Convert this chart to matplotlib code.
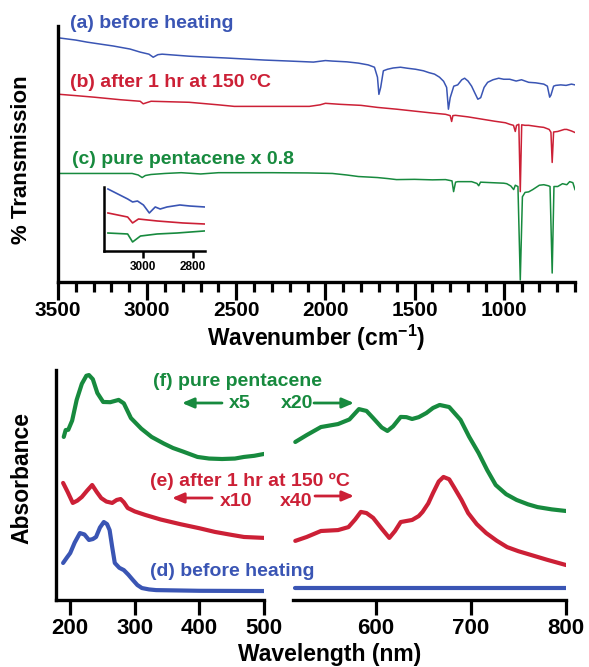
import numpy as np
import matplotlib
matplotlib.use("Agg")
import matplotlib.pyplot as plt

plt.rcParams['font.family'] = ['Liberation Sans', 'DejaVu Sans']
plt.rcParams['font.weight'] = 'bold'
plt.rcParams['mathtext.fontset'] = 'custom'
plt.rcParams['mathtext.rm'] = 'Liberation Sans:bold'
plt.rcParams['mathtext.default'] = 'rm'

BLUE = '#3a55b4'
RED = '#cc2036'
GREEN = '#178a3e'

# ---------- IR spectra (wavenumber, transmission, offset stacked) ----------
ir_wn_a = [3500, 3489, 3400, 3337, 3250, 3191, 3096, 3039, 2990, 2966, 2940, 2916,
           2764, 2650, 2556, 2450, 2343, 2200, 2067, 2000, 1961, 1880, 1815, 1760,
           1725, 1708, 1700, 1690, 1675, 1652, 1620, 1579, 1540, 1494, 1450, 1420,
           1388, 1360, 1337, 1320, 1310, 1300, 1280, 1258, 1235, 1219, 1200, 1180,
           1163, 1145, 1129, 1110, 1090, 1060, 1028, 1000, 966, 930, 900, 860, 820,
           775, 755, 742, 735, 720, 708, 680, 650, 620, 600]
ir_t_a = [0.955, 0.953, 0.945, 0.937, 0.928, 0.922, 0.910, 0.898, 0.890, 0.878, 0.888, 0.890,
          0.882, 0.878, 0.875, 0.871, 0.867, 0.863, 0.859, 0.865, 0.863, 0.860, 0.855, 0.848,
          0.839, 0.800, 0.733, 0.760, 0.825, 0.831, 0.836, 0.839, 0.835, 0.831, 0.825, 0.818,
          0.812, 0.800, 0.784, 0.760, 0.675, 0.720, 0.765, 0.770, 0.790, 0.796, 0.785, 0.765,
          0.740, 0.714, 0.720, 0.760, 0.780, 0.790, 0.796, 0.792, 0.792, 0.785, 0.790, 0.780, 0.778,
          0.773, 0.765, 0.722, 0.730, 0.765, 0.768, 0.770, 0.768, 0.773, 0.770]

ir_wn_b = [3500, 3489, 3400, 3298, 3150, 3039, 3022, 3005, 2978, 2764, 2600, 2511,
           2300, 2090, 2030, 2000, 1916, 1800, 1708, 1600, 1494, 1400, 1326, 1300,
           1292, 1285, 1270, 1200, 1112, 1050, 990, 966, 945, 935, 928, 915, 907,
           899, 880, 860, 800, 775, 745, 735, 728, 720, 697, 660, 646, 620, 600]
ir_t_b = [0.735, 0.733, 0.728, 0.722, 0.712, 0.706, 0.696, 0.700, 0.706, 0.702, 0.692, 0.686,
          0.686, 0.686, 0.692, 0.698, 0.694, 0.690, 0.682, 0.675, 0.667, 0.660, 0.655, 0.650,
          0.627, 0.650, 0.651, 0.645, 0.635, 0.628, 0.622, 0.616, 0.612, 0.588, 0.612, 0.616, 0.353,
          0.614, 0.612, 0.612, 0.606, 0.604, 0.596, 0.585, 0.467, 0.586, 0.588, 0.596, 0.596, 0.590, 0.584]

ir_wn_c = [3500, 3300, 3084, 3050, 3028, 3010, 2978, 2900, 2809, 2700, 2600, 2449,
           2300, 2100, 1961, 1880, 1815, 1760, 1708, 1650, 1601, 1500, 1400, 1326,
           1290, 1281, 1270, 1258, 1180, 1150, 1140, 1130, 1067, 1000, 983, 960, 944,
           935, 920, 907, 895, 880, 860, 837, 800, 775, 750, 740, 728, 718, 697, 670,
           646, 630, 612, 600]
ir_t_c = [0.424, 0.424, 0.424, 0.418, 0.408, 0.416, 0.420, 0.424, 0.427, 0.422, 0.427, 0.427,
          0.427, 0.426, 0.424, 0.418, 0.412, 0.410, 0.408, 0.404, 0.400, 0.401, 0.399, 0.400,
          0.395, 0.353, 0.390, 0.392, 0.392, 0.385, 0.376, 0.390, 0.388, 0.386, 0.384, 0.375, 0.361,
          0.378, 0.373, 0.008, 0.333, 0.350, 0.352, 0.361, 0.378, 0.380, 0.376, 0.373, 0.035, 0.373,
          0.373, 0.384, 0.380, 0.392, 0.388, 0.361]

# inset: C-H stretch region
in_wn_a = [3144, 3104, 3064, 3044, 3024, 3000, 2976, 2952, 2932, 2904, 2852, 2812, 2752]
in_t_a = [0.969, 0.891, 0.813, 0.766, 0.781, 0.719, 0.594, 0.688, 0.656, 0.688, 0.719, 0.703, 0.688]
in_wn_b = [3144, 3064, 3044, 3020, 2944, 2840, 2752]
in_t_b = [0.594, 0.531, 0.438, 0.500, 0.469, 0.438, 0.422]
in_wn_c = [3144, 3064, 3044, 3012, 2944, 2864, 2752]
in_t_c = [0.281, 0.266, 0.141, 0.234, 0.266, 0.281, 0.313]

# ---------- UV-vis spectra (wavelength, absorbance, offset stacked) ----------
uv_wl_f1 = [190, 193, 197, 203, 210, 218, 225, 229, 235, 242, 251, 262, 275, 283, 294,
            310, 326, 345, 359, 375, 397, 415, 435, 455, 469, 485, 500]
uv_a_f1 = [0.709, 0.739, 0.740, 0.780, 0.870, 0.940, 0.975, 0.978, 0.960, 0.900, 0.861, 0.860,
           0.870, 0.855, 0.791, 0.745, 0.709, 0.680, 0.661, 0.645, 0.622, 0.615, 0.613, 0.615,
           0.622, 0.627, 0.635]
uv_wl_f2 = [515, 527, 542, 560, 572, 582, 590, 597, 606, 612, 618, 626, 632, 638, 645, 653,
            660, 667, 677, 689, 698, 708, 717, 726, 737, 748, 760, 770, 785, 800]
uv_a_f2 = [0.687, 0.717, 0.752, 0.765, 0.785, 0.830, 0.822, 0.791, 0.750, 0.735, 0.755, 0.796,
           0.795, 0.787, 0.795, 0.813, 0.835, 0.848, 0.839, 0.783, 0.710, 0.639, 0.565, 0.500,
           0.460, 0.435, 0.416, 0.404, 0.394, 0.387]

uv_wl_e1 = [189, 196, 204, 211, 218, 226, 234, 241, 248, 256, 265, 272, 278, 283, 289,
            300, 316, 340, 370, 400, 424, 450, 469, 500]
uv_a_e1 = [0.509, 0.470, 0.422, 0.432, 0.448, 0.475, 0.500, 0.470, 0.443, 0.428, 0.422, 0.435,
           0.439, 0.425, 0.400, 0.385, 0.370, 0.350, 0.330, 0.312, 0.296, 0.283, 0.274, 0.270]
uv_wl_e2 = [515, 527, 542, 560, 571, 578, 584, 590, 597, 606, 614, 620, 626, 638, 645, 649,
            655, 660, 666, 671, 677, 682, 690, 697, 706, 716, 727, 738, 750, 763, 780, 800]
uv_a_e2 = [0.257, 0.274, 0.300, 0.304, 0.317, 0.350, 0.383, 0.378, 0.357, 0.310, 0.270, 0.300,
           0.339, 0.348, 0.365, 0.383, 0.420, 0.465, 0.515, 0.535, 0.525, 0.491, 0.435, 0.378,
           0.330, 0.291, 0.258, 0.230, 0.212, 0.196, 0.175, 0.152]

uv_wl_d1 = [189, 195, 200, 207, 215, 222, 229, 235, 240, 246, 252, 257, 261, 265, 269,
            276, 283, 290, 297, 304, 311, 322, 333, 400, 500]
uv_a_d1 = [0.161, 0.185, 0.204, 0.250, 0.291, 0.285, 0.261, 0.265, 0.274, 0.315, 0.339, 0.330,
           0.304, 0.230, 0.161, 0.140, 0.130, 0.110, 0.087, 0.065, 0.052, 0.046, 0.043, 0.040, 0.039]
uv_wl_d2 = [515, 800]
uv_a_d2 = [0.052, 0.052]

W, H = 589, 667
fig = plt.figure(figsize=(W / 100, H / 100), dpi=100)


def box(l, t, r, b):
    # pixel box (image coords) -> figure fraction
    return [l / W, 1 - b / H, (r - l) / W, (b - t) / H]


def style(ax, lw=2.4):
    for s in ['top', 'right']:
        ax.spines[s].set_visible(False)
    for s in ['left', 'bottom']:
        ax.spines[s].set_linewidth(lw)
    ax.set_yticks([])
    ax.patch.set_visible(False)


# ===== IR panel =====
ax1 = fig.add_axes(box(58, 26, 575, 282))
style(ax1)
ax1.plot(ir_wn_a, ir_t_a, color=BLUE, lw=1.1)
ax1.plot(ir_wn_b, ir_t_b, color=RED, lw=1.1)
ax1.plot(ir_wn_c, ir_t_c, color=GREEN, lw=1.1)
ax1.set_xlim(3500, 600)
ax1.set_ylim(0, 1)
ax1.set_xticks(np.arange(3500, 599, -500))
ax1.set_xticks(np.arange(3500, 599, -100), minor=True)
ax1.tick_params(axis='x', which='major', length=13, width=2.3, labelsize=15, pad=1)
ax1.tick_params(axis='x', which='minor', length=7, width=2.3)
ax1.set_xlabel('Wavenumber (cm$^{-1}$)', fontsize=16.5, fontweight='bold', labelpad=2)
fig.text(22 / W, 1 - 160 / H, '% Transmission', rotation=90, ha='center', va='center',
         fontsize=16, fontweight='bold')

fig.text(70 / W, 1 - 24 / H, '(a) before heating', color=BLUE, fontsize=14, va='center')
fig.text(70 / W, 1 - 82 / H, '(b) after 1 hr at 150 ºC', color=RED, fontsize=14, va='center')
fig.text(72 / W, 1 - 159 / H, '(c) pure pentacene x 0.8', color=GREEN, fontsize=14, va='center')

axin = fig.add_axes(box(104, 187, 205, 251))
style(axin, lw=1.8)
axin.plot(in_wn_a, in_t_a, color=BLUE, lw=1.2)
axin.plot(in_wn_b, in_t_b, color=RED, lw=1.2)
axin.plot(in_wn_c, in_t_c, color=GREEN, lw=1.2)
axin.set_xlim(3160, 2750)
axin.set_ylim(0, 1)
axin.set_xticks([3000, 2800])
axin.tick_params(axis='x', length=5, width=1.8, labelsize=8.5, pad=2)

# ===== UV-vis panel (broken axis) =====
axl = fig.add_axes(box(56, 370, 264, 600))
axr = fig.add_axes(box(293, 370, 566, 600))
style(axl)
style(axr)
axr.spines['left'].set_visible(False)
for ax in (axl, axr):
    ax.set_ylim(0, 1)
    ax.tick_params(axis='x', length=11, width=2.3, labelsize=16, pad=2)
axl.set_xlim(178, 500)
axr.set_xlim(512.6, 800)
axl.set_xticks([200, 300, 400, 500])
axr.set_xticks([600, 700, 800])

kw = dict(lw=3, solid_joinstyle='round', solid_capstyle='round')
axl.plot(uv_wl_f1, uv_a_f1, color=GREEN, **kw)
axr.plot(uv_wl_f2, uv_a_f2, color=GREEN, **kw)
axl.plot(uv_wl_e1, uv_a_e1, color=RED, **kw)
axr.plot(uv_wl_e2, uv_a_e2, color=RED, **kw)
axl.plot(uv_wl_d1, uv_a_d1, color=BLUE, **kw)
axr.plot(uv_wl_d2, uv_a_d2, color=BLUE, **kw)

fig.text(330 / W, 1 - 654 / H, 'Wavelength (nm)', ha='center', va='center',
         fontsize=16.5, fontweight='bold')
fig.text(22 / W, 1 - 478 / H, 'Absorbance', rotation=90, ha='center', va='center',
         fontsize=16.5, fontweight='bold')

fig.text(153 / W, 1 - 382 / H, '(f) pure pentacene', color=GREEN, fontsize=14, va='center')
fig.text(229 / W, 1 - 404 / H, 'x5', color=GREEN, fontsize=14, va='center')
fig.text(281 / W, 1 - 404 / H, 'x20', color=GREEN, fontsize=14, va='center')
fig.text(150 / W, 1 - 481 / H, '(e) after 1 hr at 150 ºC', color=RED, fontsize=14, va='center')
fig.text(220 / W, 1 - 502 / H, 'x10', color=RED, fontsize=14, va='center')
fig.text(280 / W, 1 - 502 / H, 'x40', color=RED, fontsize=14, va='center')
fig.text(150 / W, 1 - 571 / H, '(d) before heating', color=BLUE, fontsize=14, va='center')

arrows = [((222, 403), (182, 403), GREEN), ((314, 403), (354, 403), GREEN),
          ((212, 498), (172, 498), RED), ((315, 496), (354, 496), RED)]
for (x0, y0), (x1, y1), c in arrows:
    fig.add_artist(plt.Annotation('', xy=(x1, H - y1), xytext=(x0, H - y0),
                                  xycoords='figure pixels', textcoords='figure pixels',
                                  arrowprops=dict(arrowstyle='-|>,head_length=0.7,head_width=0.3',
                                                  color=c, lw=2, shrinkA=0, shrinkB=0)))

fig.savefig('out.png', dpi=100)
